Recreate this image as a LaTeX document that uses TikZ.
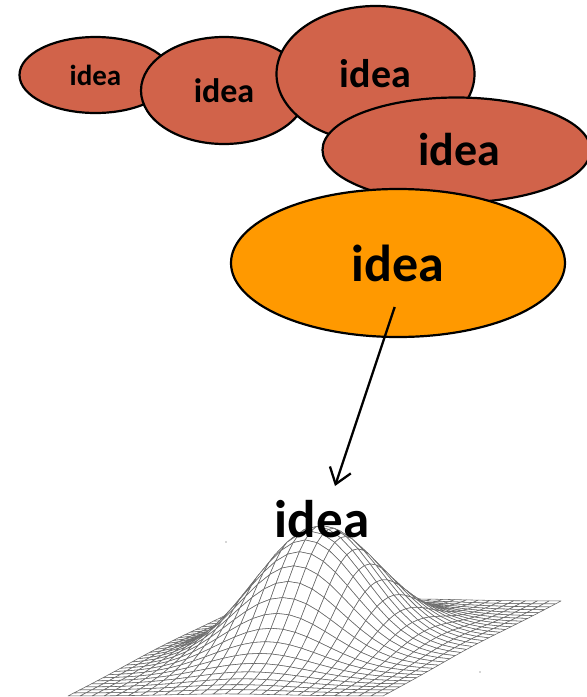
\documentclass[tikz,border=0pt]{standalone}
\usepackage{fontspec}
\setmainfont{Carlito}
\usetikzlibrary{shapes.geometric,arrows.meta}
\definecolor{brick}{HTML}{D1634A}
\definecolor{amber}{HTML}{FF9900}
\tikzset{
  blob/.style={ellipse,draw=black,line width=2.2pt,inner sep=0pt},
  word/.style={font=\bfseries\fontsize{#1}{#1}\selectfont,inner sep=0pt},
  declare function={
    hh(\u,\v)=122*exp(-(pow(\u-0.5,2)+pow(\v-0.5,2))/(2*0.175*0.175));
    mx(\u,\v)=68+315*\u+186*\v-8*\u*\v;
    my(\u,\v)=696-95*\v-hh(\u,\v);
  }
}
\begin{document}
\begin{tikzpicture}[x=1pt,y=-1pt]
\useasboundingbox (0,0) rectangle (587,697);
\clip (0,0) rectangle (587,697);
% surface
\begin{scope}[line width=0.55pt,draw=black!60,fill=white,line join=round]
\foreach \j in {31,30,...,0}{
  \foreach \i in {0,1,...,25}{
    \pgfmathsetmacro{\ua}{\i/26}
    \pgfmathsetmacro{\ub}{(\i+1)/26}
    \pgfmathsetmacro{\va}{\j/32}
    \pgfmathsetmacro{\vb}{(\j+1)/32}
    \filldraw ({mx(\ua,\va)},{my(\ua,\va)}) -- ({mx(\ub,\va)},{my(\ub,\va)}) -- ({mx(\ub,\vb)},{my(\ub,\vb)}) -- ({mx(\ua,\vb)},{my(\ua,\vb)}) -- cycle;
  }
}
\end{scope}
\fill[black!70] (226,542) circle (0.6pt) (480,672) circle (0.6pt);
% ellipses
\node[blob,fill=brick,minimum width=152pt,minimum height=76pt,word=29] (a) at (95.5,75) {idea};
\node[blob,fill=brick,minimum width=166pt,minimum height=107pt,word=34] (b) at (224,90.5) {idea};
\node[blob,fill=brick,minimum width=198pt,minimum height=136pt,word=40] (c) at (375.5,74) {\raisebox{-2pt}{idea}};
\node[blob,fill=brick,minimum width=268pt,minimum height=105pt,word=46] (d) at (456.5,150) {\hspace*{5pt}\raisebox{-3pt}{idea}};
\node[blob,fill=amber,minimum width=334pt,minimum height=148pt,word=52] (e) at (398,263) {idea};
\node[word=53] (f) at (322,519) {idea};
\coordinate (from) at (394.7,307);
\coordinate (to) at (335,486);
\draw[line width=2.3pt,-{Straight Barb[length=15pt,width=22pt,line width=2.3pt]}] (from) -- (to);
\end{tikzpicture}
\end{document}
